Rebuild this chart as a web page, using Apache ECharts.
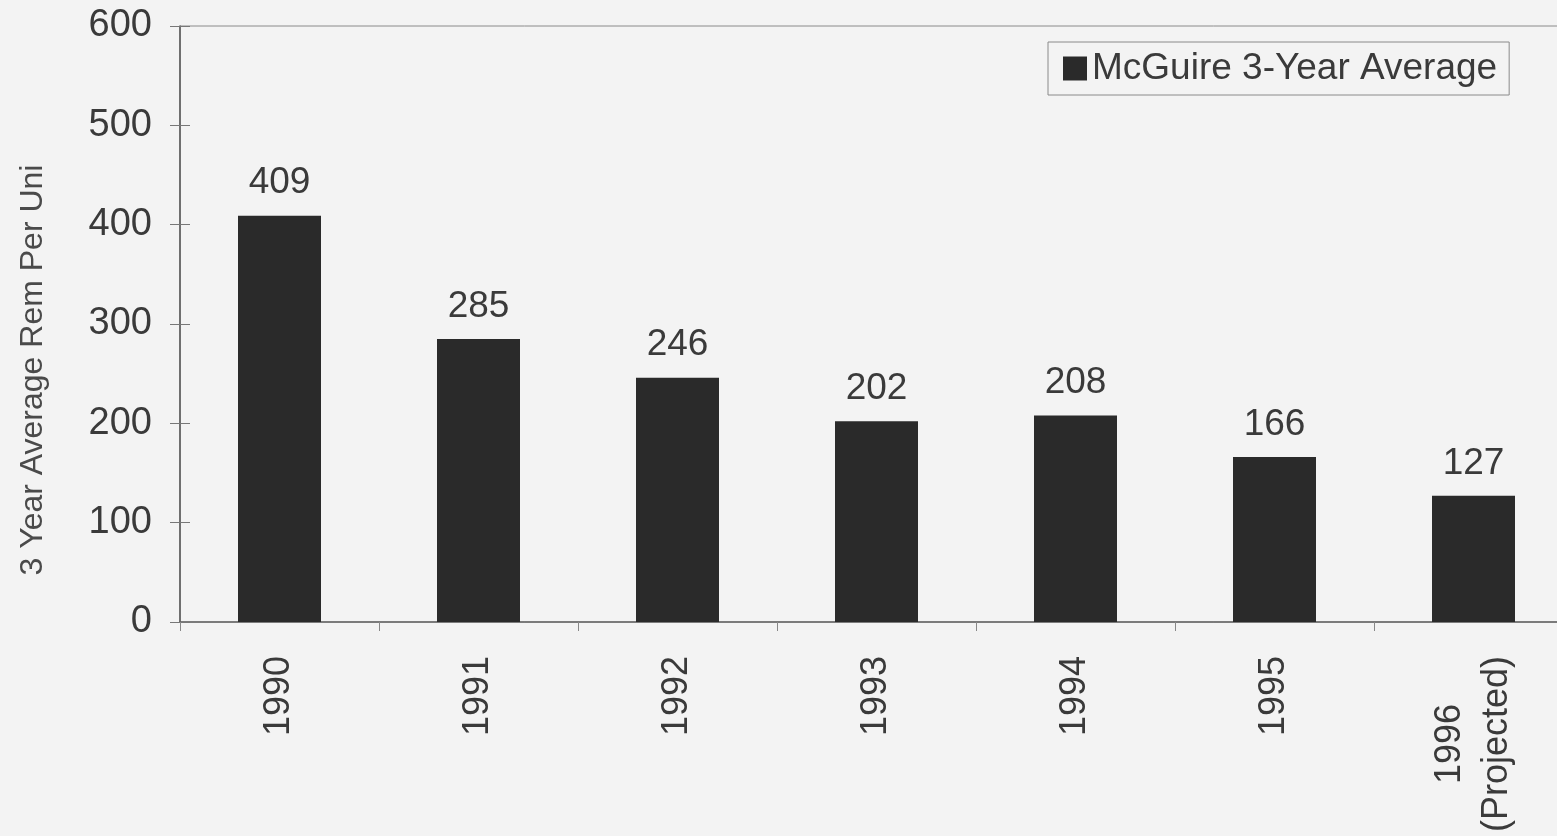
<!DOCTYPE html>
<html>
<head>
<meta charset="utf-8">
<script src="https://cdn.jsdelivr.net/npm/echarts@6/dist/echarts.min.js"></script>
<style>
html,body{margin:0;padding:0;background:#f3f3f3;}
#c{width:1557px;height:836px;}
</style>
</head>
<body>
<div id="c"></div>
<script>
const categories = ['1990', '1991', '1992', '1993', '1994', '1995', '1996\n(Projected)'];
const values = [409, 285, 246, 202, 208, 166, 127];
const seriesName = 'McGuire 3-Year Average';
const yAxisTitle = '3 Year Average Rem Per Uni';

const FONT = '"Liberation Sans", Arial, sans-serif';
const TXT = '#3a3a3a';

const chart = echarts.init(document.getElementById('c'));
chart.setOption({
  backgroundColor: '#f3f3f3',
  animation: false,
  grid: {
    left: 180, top: 26, width: 1393, height: 596,
    outerBoundsMode: 'none', containLabel: false,
    show: true, borderColor: '#8a8a8a', borderWidth: 1, backgroundColor: 'transparent'
  },
  legend: {
    left: 1048, top: 42,
    padding: [8, 12, 8, 15],
    borderColor: '#8a8a8a', borderWidth: 1,
    itemWidth: 24, itemHeight: 24, icon: 'rect',
    textStyle: { fontFamily: FONT, fontSize: 37, color: TXT },
    data: [seriesName]
  },
  xAxis: {
    type: 'category',
    data: categories,
    axisLine: { lineStyle: { color: '#666', width: 1.5 } },
    axisTick: { show: true, length: 9, lineStyle: { color: '#888' } },
    axisLabel: {
      rotate: 90, margin: 34, interval: 0,
      fontFamily: FONT, fontSize: 36, color: TXT,
      formatter: function (v) {
        return v.split('\n').map(s => '{c|' + s + '}').join('\n');
      },
      rich: { c: { align: 'center', fontFamily: FONT, fontSize: 36, color: TXT, lineHeight: 47 } }
    },
    splitLine: { show: false }
  },
  yAxis: [{
    type: 'value', min: 0, max: 600, interval: 100,
    axisLine: { show: true, lineStyle: { color: '#555', width: 1.5 } },
    axisTick: { show: true, length: 10, lineStyle: { color: '#777' } },
    axisLabel: { margin: 28, fontFamily: FONT, fontSize: 38, color: TXT },
    splitLine: { show: false }
  }, {
    type: 'value', min: 0, max: 600, interval: 100, position: 'left',
    axisLine: { show: false },
    axisTick: { show: true, inside: true, length: 10, lineStyle: { color: '#777' } },
    axisLabel: { show: false },
    splitLine: { show: false }
  }],
  graphic: [{
    type: 'text',
    x: 33, y: 370, rotation: Math.PI / 2,
    style: {
      text: yAxisTitle, fontFamily: FONT, fontSize: 32, fill: '#4a4a4a',
      textAlign: 'center', textVerticalAlign: 'middle'
    }
  }],
  series: [{
    name: seriesName,
    type: 'bar',
    data: values,
    barWidth: 83,
    itemStyle: { color: '#2a2a2a' },
    label: {
      show: true, position: 'top', distance: 14,
      fontFamily: FONT, fontSize: 37, color: TXT
    }
  }]
});
</script>
</body>
</html>
